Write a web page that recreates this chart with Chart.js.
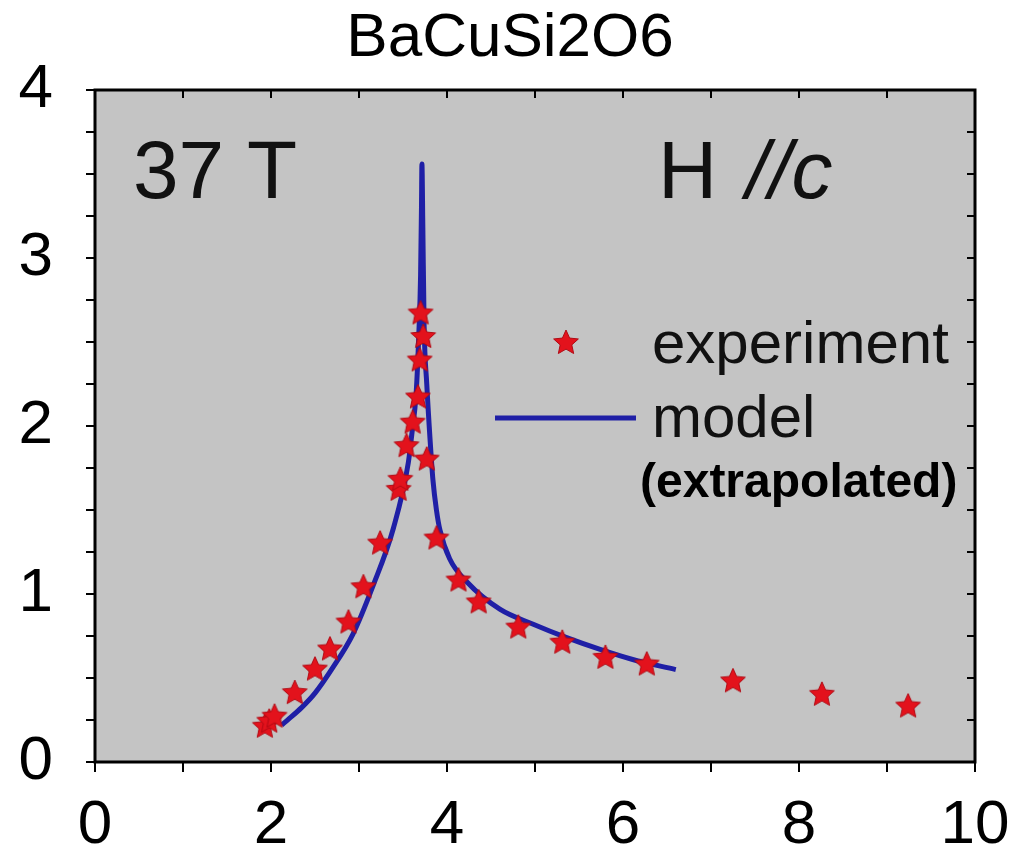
<!DOCTYPE html>
<html>
<head>
<meta charset="utf-8">
<title>BaCuSi2O6</title>
<script src="https://cdn.jsdelivr.net/npm/chart.js@4.4.1/dist/chart.umd.min.js"></script>
<style>
  html, body { margin: 0; padding: 0; background: #fff; }
  canvas { display: block; }
</style>
</head>
<body>
<canvas id="chart" width="1012" height="855"></canvas>
<script>
// experiment points (stars)
const expX = [1.93, 1.98, 2.04, 2.27, 2.50, 2.67, 2.88, 3.05, 3.24, 3.45, 3.47, 3.54, 3.61, 3.67, 3.69, 3.70, 3.73, 3.77, 3.88, 4.13, 4.36, 4.81, 5.31, 5.80, 6.27, 7.25, 8.26, 9.24];
const expY = [0.21, 0.24, 0.27, 0.41, 0.55, 0.67, 0.83, 1.04, 1.30, 1.62, 1.68, 1.88, 2.02, 2.17, 2.39, 2.67, 2.53, 1.80, 1.33, 1.08, 0.95, 0.80, 0.71, 0.62, 0.58, 0.48, 0.40, 0.33];

// model curve (extrapolated)
const modelX = [2.12, 2.2, 2.35, 2.5, 2.7, 2.93, 3.16, 3.39, 3.56, 3.6, 3.65, 3.68, 3.70, 3.71, 3.715, 3.725, 3.74, 3.77, 3.81, 3.84, 3.88, 3.92, 4.03, 4.23, 4.6, 4.98, 5.36, 5.74, 6.11, 6.6];
const modelY = [0.22, 0.255, 0.325, 0.41, 0.56, 0.76, 1.05, 1.39, 1.78, 1.95, 2.2, 2.55, 2.9, 3.3, 3.56, 3.2, 2.6, 2.25, 1.9, 1.68, 1.5, 1.38, 1.21, 1.07, 0.91, 0.82, 0.74, 0.67, 0.61, 0.55];

const xTicks = [0, 2, 4, 6, 8, 10];
const yTicks = [0, 1, 2, 3, 4];

const FONT = '"Liberation Sans", Arial, sans-serif';
const BG = "#c4c4c4";
const RED = "#e3121c";
const BLUE = "#1f1fa6";

function makeStar(r) {
  const s = Math.ceil(r * 2 + 4);
  const c = document.createElement("canvas");
  c.width = s;
  c.height = s;
  const ctx = c.getContext("2d");
  ctx.beginPath();
  for (let i = 0; i < 10; i++) {
    const rad = i % 2 === 0 ? r : r * 0.47;
    const a = -Math.PI / 2 + i * Math.PI / 5;
    const x = s / 2 + rad * Math.cos(a);
    const y = s / 2 + rad * Math.sin(a);
    if (i === 0) ctx.moveTo(x, y); else ctx.lineTo(x, y);
  }
  ctx.closePath();
  ctx.fillStyle = RED;
  ctx.fill();
  ctx.strokeStyle = "#b00a14";
  ctx.lineWidth = 1;
  ctx.stroke();
  return c;
}
const star = makeStar(13);

const frame = {
  id: "frame",
  beforeDraw(chart) {
    const { ctx, chartArea: a } = chart;
    ctx.save();
    ctx.fillStyle = BG;
    ctx.fillRect(a.left, a.top, a.right - a.left, a.bottom - a.top);
    ctx.restore();
  },
  afterDraw(chart) {
    const { ctx, chartArea: a, scales } = chart;
    ctx.save();
    ctx.strokeStyle = "#000";
    ctx.lineWidth = 3;
    ctx.strokeRect(a.left, a.top, a.right - a.left, a.bottom - a.top);

    // inward ticks on top and right
    ctx.lineWidth = 2;
    ctx.beginPath();
    for (let v = 1; v < 10; v++) {
      const x = scales.x.getPixelForValue(v);
      ctx.moveTo(x, a.top);
      ctx.lineTo(x, a.top + 8);
    }
    for (let v = 0.25; v < 4; v += 0.25) {
      const y = scales.y.getPixelForValue(v);
      ctx.moveTo(a.right, y);
      ctx.lineTo(a.right - 8, y);
    }
    ctx.stroke();

    // title
    ctx.fillStyle = "#000";
    ctx.textBaseline = "alphabetic";
    ctx.textAlign = "center";
    ctx.font = "62px " + FONT;
    ctx.fillText("BaCuSi2O6", 510, 56);

    // labels inside the plot
    ctx.textAlign = "left";
    ctx.fillStyle = "#111";
    ctx.font = "82px " + FONT;
    ctx.fillText("37 T", 133, 198);
    ctx.fillText("H ", 658, 198);
    const hw = ctx.measureText("H ").width;
    ctx.font = "italic 82px " + FONT;
    ctx.fillText("//c", 664 + hw, 198);

    // legend
    ctx.drawImage(star, 566 - star.width / 2, 343 - star.height / 2);
    ctx.strokeStyle = BLUE;
    ctx.lineWidth = 5;
    ctx.beginPath();
    ctx.moveTo(495, 418);
    ctx.lineTo(636, 418);
    ctx.stroke();
    ctx.font = "60px " + FONT;
    ctx.fillText("experiment", 652, 363);
    ctx.fillText("model", 652, 437);
    ctx.fillStyle = "#000";
    ctx.font = "bold 48px " + FONT;
    ctx.fillText("(extrapolated)", 640, 497);
    ctx.restore();
  }
};

const expPoints = expX.map((x, i) => ({ x, y: expY[i] }));
const modelPoints = modelX.map((x, i) => ({ x, y: modelY[i] }));

new Chart(document.getElementById("chart"), {
  type: "scatter",
  data: {
    datasets: [
      {
        label: "experiment",
        data: expPoints,
        pointStyle: star,
        pointRadius: 13,
        showLine: false,
        order: 1
      },
      {
        label: "model",
        data: modelPoints,
        showLine: true,
        borderColor: BLUE,
        borderWidth: 5,
        pointRadius: 0,
        cubicInterpolationMode: "monotone",
        order: 2
      }
    ]
  },
  options: {
    responsive: false,
    animation: false,
    layout: { padding: { top: 90, right: 37, left: 0, bottom: 0 } },
    plugins: {
      legend: { display: false },
      tooltip: { enabled: false },
      title: { display: false }
    },
    scales: {
      x: {
        type: "linear",
        min: 0,
        max: 10,
        afterFit(scale) {
          scale.height = 93;
          scale.paddingLeft = 0;
          scale.paddingRight = 0;
        },
        border: { display: false },
        grid: { drawOnChartArea: false, tickLength: 10, color: "#000", lineWidth: 2 },
        ticks: {
          stepSize: 1,
          autoSkip: false,
          maxRotation: 0,
          minRotation: 0,
          padding: 17,
          color: "#000",
          font: { family: FONT, size: 62 },
          callback: v => xTicks.includes(v) ? String(v) : ""
        }
      },
      y: {
        type: "linear",
        min: 0,
        max: 4,
        afterFit(scale) {
          scale.width = 95;
          scale.paddingTop = 0;
          scale.paddingBottom = 0;
        },
        border: { display: false },
        grid: { drawOnChartArea: false, tickLength: 9, color: "#000", lineWidth: 2 },
        ticks: {
          stepSize: 0.25,
          autoSkip: false,
          padding: 33,
          color: "#000",
          font: { family: FONT, size: 62 },
          callback: v => yTicks.includes(v) ? String(v) : ""
        }
      }
    }
  },
  plugins: [frame]
});
</script>
</body>
</html>
